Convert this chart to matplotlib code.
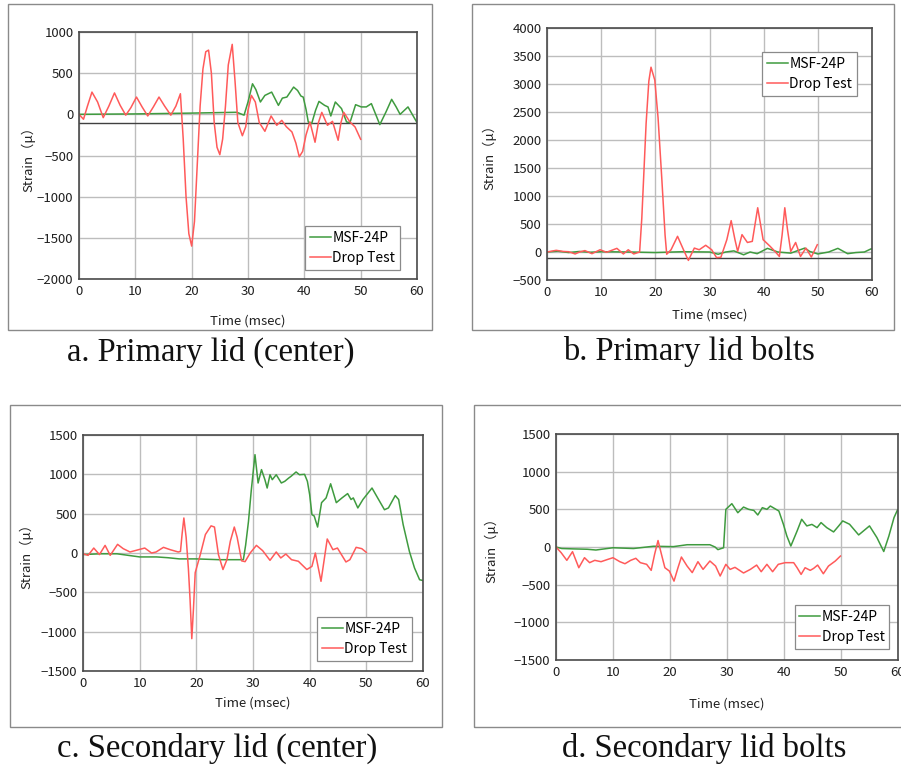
import matplotlib
matplotlib.use("Agg")
import matplotlib.pyplot as plt
from matplotlib.patches import Rectangle

plt.rcParams['font.family'] = ['Noto Sans CJK JP', 'DejaVu Sans']

# a. primary lid (center)
a_drop_t = [0, 0.8, 1.5, 2.3, 3.3, 4.3, 5.3, 6.3, 7.3, 8.3, 9.2, 10.2, 11.2, 12.2, 13.2, 14.2,
            15.2, 16.3, 17.2, 18.0, 18.5, 19.0, 19.5, 20.0, 20.5, 21.0, 21.5, 22.0, 22.5, 23.0,
            23.5, 24.0, 24.5, 25.0, 25.5, 26.0, 26.5, 27.2, 27.7, 28.2, 29.0, 29.6, 30.0, 30.6,
            31.3, 32.0, 33.0, 34.1, 35.1, 36.0, 36.8, 37.8, 38.5, 39.1, 39.7, 40.3, 41.0, 41.9,
            42.5, 43.1, 44.1, 45.0, 46.0, 46.5, 47.0, 48.1, 49.0, 50.0]
a_drop = [0, -60, 100, 270, 150, -40, 100, 260, 110, -10, 80, 210, 90, -20, 90, 210,
          100, -10, 100, 250, -300, -1000, -1450, -1600, -1300, -600, 100, 550, 760, 780,
          500, -100, -400, -490, -300, 100, 600, 850, 400, -100, -260, -150, 50, 230,
          150, -100, -206, -20, -133, -73, -150, -214, -350, -516, -450, -250, -93, -339,
          -100, 24, -133, -85, -315, -100, 24, -93, -153, -303]
a_msf_t = [0, 10, 20, 28, 29.3, 30.0, 30.8, 31.4, 32.2, 33.0, 34.2, 35.4, 36.1, 36.9, 38.1,
           38.8, 39.4, 39.8, 40.3, 40.7, 41.3, 42.0, 42.6, 43.6, 44.2, 44.7, 45.5, 46.6, 47.5,
           48.1, 49.1, 50.1, 51.0, 51.9, 53.4, 54.5, 55.5, 56.3, 57.0, 58.4, 60.0]
a_msf = [0, 5, 15, 25, -10, 150, 371, 300, 150, 230, 270, 109, 197, 210, 331,
         290, 222, 210, 60, -93, -113, 50, 157, 109, 90, -20, 150, 70, -93,
         -100, 117, 90, 90, 130, -125, 30, 182, 90, 0, 90, -100]

# b. primary lid bolts
b_drop_t = [0, 1.7, 3.0, 4.0, 5.2, 6.0, 7.0, 8.3, 9.8, 11.0, 12.9, 14.1, 15.0, 16.0, 17.1,
            17.5, 18.3, 18.8, 19.2, 19.9, 20.5, 21.2, 21.8, 22.1, 22.9, 24.1, 25.2, 26.1,
            27.2, 28.1, 29.3, 30.4, 31.3, 32.1, 33.2, 34.0, 34.7, 35.2, 36.0, 37.0, 37.9,
            38.9, 39.9, 41.2, 42.1, 42.9, 43.4, 43.9, 44.4, 45.0, 45.9, 46.8, 47.8, 48.8, 49.9]
b_drop = [0, 30, 10, 5, -35, 0, 25, -30, 40, -5, 65, -35, 40, -35, 0,
          600, 2300, 3050, 3300, 3070, 2400, 1300, 300, -40, 40, 280, 40, -150,
          70, 40, 120, 40, -100, -95, 220, 560, 220, 10, 310, 170, 190,
          790, 220, 100, 10, -80, 300, 790, 400, 10, 170, -80, 70, -90, 130]
b_msf_t = [0, 2, 4, 6, 8, 10, 15, 20, 25, 30, 31.6, 33, 34.5, 36.3, 37.5, 38.8, 40.7,
           42.6, 45, 47.6, 48.5, 50, 52, 53.7, 55.5, 57, 58.6, 59.8, 60]
b_msf = [0, 15, -10, 10, -5, 5, 0, -10, 5, 0, -40, 0, 20, -50, 0, -30, 65,
         0, -20, 70, 10, -35, 0, 65, -30, -10, 0, 55, 55]

# c. secondary lid (center)
c_drop_t = [0, 0.9, 1.9, 2.9, 3.9, 4.8, 6.1, 7.1, 8.3, 9.8, 10.9, 12.1, 12.9, 14.2, 15.4,
            16.8, 17.2, 17.5, 17.8, 18.2, 18.6, 18.9, 19.2, 19.5, 19.8, 20.7, 21.6, 22.6,
            23.2, 23.9, 24.7, 25.4, 26.0, 26.7, 27.2, 28.0, 28.6, 29.5, 30.6, 31.7, 33.0,
            34.1, 34.9, 35.8, 36.8, 38.0, 39.5, 40.4, 41.0, 42.0, 43.1, 44.1, 44.9, 46.4,
            47.1, 48.2, 49.2, 50.0]
c_drop = [-10, -30, 63, -20, 97, -30, 110, 55, 13, 42, 63, 0, 13, 72, 42,
          13, 20, 250, 445, 200, -200, -600, -1089, -700, -250, -20, 235, 345,
          330, -20, -210, -85, 150, 330, 200, -100, -110, 0, 97, 30, -93,
          13, -63, -13, -85, -105, -210, -170, 0, -360, 178, 42, 63, -114,
          -85, 72, 55, 8]
c_msf_t = [0, 3, 6, 8, 10, 13, 15, 17, 20, 24, 28.3, 28.7, 29.2, 29.7, 30.35, 30.9, 31.5,
           32.1, 32.5, 33.0, 33.4, 34.1, 35.0, 35.6, 36.3, 36.7, 37.6, 38.2, 39.1, 39.6,
           40.0, 40.4, 40.8, 41.4, 42.1, 42.9, 43.7, 44.7, 45.7, 46.7, 47.3, 47.7, 48.5,
           49.4, 51.0, 52.0, 53.2, 53.9, 55.1, 55.7, 56.5, 57.6, 58.5, 59.4, 60]
c_msf = [-20, -10, -10, -30, -50, -50, -60, -75, -75, -85, -85, 100, 400, 800, 1250, 890, 1060,
         932, 826, 995, 932, 995, 890, 911, 953, 974, 1030, 995, 1000, 911,
         742, 488, 470, 330, 640, 700, 880, 640, 700, 755, 680, 700, 573,
         680, 826, 700, 550, 573, 730, 680, 360, 20, -190, -340, -350]

# d. secondary lid bolts
d_drop_t = [0, 0.9, 1.9, 2.9, 4.0, 5.0, 5.9, 6.8, 7.9, 9.1, 10.0, 11.2, 12.1, 13.1, 14.0,
            14.8, 15.9, 16.7, 17.3, 17.9, 18.5, 19.1, 19.9, 20.7, 21.4, 22.0, 23.0, 23.9,
            24.9, 25.8, 27.0, 28.0, 28.8, 29.8, 30.55, 31.4, 32.9, 34.1, 35.2, 36.0, 37.0,
            38.0, 39.0, 40.2, 41.7, 42.3, 43.0, 43.7, 44.6, 45.2, 45.9, 46.9, 47.8, 49.0, 49.9]
d_drop = [0, -75, -177, -62, -275, -142, -208, -177, -195, -164, -142, -195, -222, -177, -150,
          -208, -230, -310, -97, 86, -97, -275, -320, -453, -275, -133, -253, -340,
          -195, -297, -186, -253, -385, -230, -297, -270, -345, -297, -240, -328, -230,
          -328, -230, -208, -208, -275, -364, -275, -310, -284, -240, -355, -253, -186, -120]
d_msf_t = [0, 1, 3, 5.5, 7, 10, 13.6, 17.1, 20.6, 23, 27, 27.9, 28.4, 29.4, 29.8, 30.85,
           31.9, 32.9, 33.8, 34.7, 35.4, 36.2, 37.0, 37.6, 38.3, 39.1, 39.9, 40.5, 41.2,
           42.3, 43.1, 44.0, 44.9, 45.8, 46.5, 47.5, 48.7, 49.6, 50.3, 51.5, 53.1, 55.0,
           56.3, 57.5, 58.4, 59.3, 59.9]
d_msf = [0, -20, -25, -30, -40, -10, -20, 10, 5, 30, 30, 0, -35, -10, 500, 575,
         455, 530, 500, 486, 425, 522, 500, 544, 513, 478, 300, 146, 13,
         213, 368, 280, 300, 257, 324, 257, 200, 280, 346, 302, 160, 280,
         125, -60, 146, 390, 490]

captions = ["a. Primary lid (center)", "b. Primary lid bolts",
            "c. Secondary lid (center)", "d. Secondary lid bolts"]

W, H = 901, 771
fig = plt.figure(figsize=(W / 100, H / 100), dpi=100)
fig.patch.set_facecolor("white")

GREEN = "#3f9b3f"
RED = "#ff5a5a"


def box(x0, y0, x1, y1):
    fig.patches.append(Rectangle((x0 / W, 1 - y1 / H), (x1 - x0) / W, (y1 - y0) / H,
                                 transform=fig.transFigure, fill=False,
                                 edgecolor="#8a8a8a", lw=1.0))


def panel(l, t, r, b, ylim, ystep, msf_t, msf, drop_t, drop, leg_loc, leg_xy,
          zero_line=False, xlab_y=None, ylab_x=None):
    ax = fig.add_axes([l / W, 1 - b / H, (r - l) / W, (b - t) / H])
    ax.set_xlim(0, 60)
    ax.set_ylim(*ylim)
    ax.set_xticks(range(0, 61, 10))
    ax.set_yticks(range(ylim[0], ylim[1] + 1, ystep))
    ax.grid(True, color="#bdbdbd", lw=1.0)
    ax.set_axisbelow(True)
    for s in ax.spines.values():
        s.set_color("#4a4a4a")
        s.set_linewidth(1.2)
    ax.tick_params(length=0, labelsize=9.5, colors="#202020", pad=4)
    if zero_line:
        ax.axhline(-100, color="#404040", lw=1.0, zorder=1.5)
    ax.plot(msf_t, msf, color=GREEN, lw=1.1, label="MSF-24P")
    ax.plot(drop_t, drop, color=RED, lw=1.1, label="Drop Test")
    leg = ax.legend(loc=leg_loc, bbox_to_anchor=leg_xy, borderaxespad=0, fontsize=10,
                    handlelength=1.5, handletextpad=0.1, fancybox=False,
                    edgecolor="#8a8a8a", framealpha=1, borderpad=0.35, labelspacing=0.45)
    leg.get_frame().set_linewidth(0.9)
    ax.set_xlabel("Time (msec)", fontsize=9.5, color="#202020")
    ax.set_ylabel("Strain（μ）", fontsize=9.5, color="#202020")
    if xlab_y is not None:
        ax.xaxis.set_label_coords(0.5, xlab_y)
    if ylab_x is not None:
        ax.yaxis.set_label_coords(ylab_x, 0.5)
    return ax


box(8, 4, 432, 330)
box(472, 4, 894, 330)
box(10, 405, 442, 727)
box(474, 405, 905, 727)

panel(79, 32, 417, 279, (-2000, 1000), 500, a_msf_t, a_msf, a_drop_t, a_drop,
      "lower right", (0.95, 0.036), zero_line=True, xlab_y=-0.142, ylab_x=-0.13)
panel(547, 28, 872, 280, (-500, 4000), 500, b_msf_t, b_msf, b_drop_t, b_drop,
      "upper right", (0.954, 0.905), zero_line=True, xlab_y=-0.115, ylab_x=-0.157)
panel(83, 435, 423, 671, (-1500, 1500), 500, c_msf_t, c_msf, c_drop_t, c_drop,
      "lower right", (0.968, 0.042), xlab_y=-0.11, ylab_x=-0.147)
panel(556, 434, 898, 660, (-1500, 1500), 500, d_msf_t, d_msf, d_drop_t, d_drop,
      "lower right", (0.975, 0.049), xlab_y=-0.164, ylab_x=-0.17)

cap_pos = [(211, 352), (689, 352), (217, 748), (704, 748)]
for (cx, cy), txt in zip(cap_pos, captions):
    fig.text(cx / W, 1 - cy / H, txt, ha="center", va="center",
             family="Liberation Serif", fontsize=23.5, color="#111111")

fig.savefig("out.png", dpi=100)
